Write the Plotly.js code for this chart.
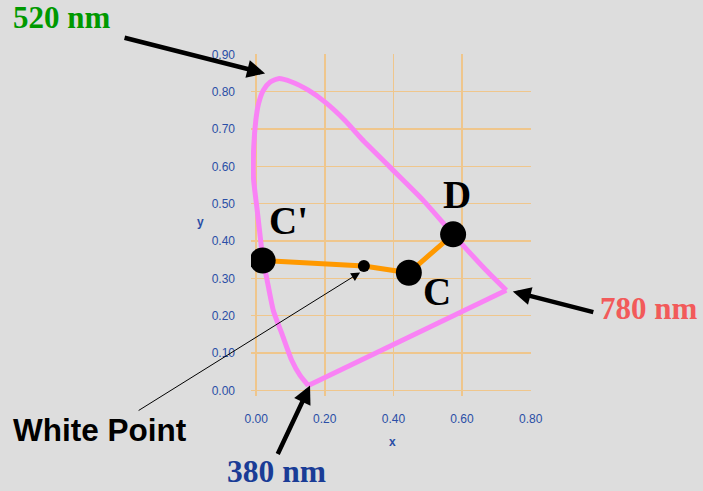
<!DOCTYPE html>
<html>
<head>
<meta charset="utf-8">
<script src="https://cdn.plot.ly/plotly-3.0.1.min.js"></script>
<style>
  html, body { margin: 0; padding: 0; background: #dddddd; }
  #plot { width: 703px; height: 491px; }
</style>
</head>
<body>
<div id="plot"></div>
<script>
// spectral locus, 380 nm -> 520 nm -> 780 nm, closed by the purple line
const locusX = [0.152, 0.128, 0.104, 0.075, 0.050, 0.031, 0.020, 0.012, 0.002, -0.008, -0.007, -0.001, 0.007,
  0.021, 0.041, 0.065, 0.104, 0.152, 0.201, 0.259, 0.307, 0.390, 0.487, 0.574, 0.671, 0.729, 0.152];
const locusY = [0.013, 0.040, 0.080, 0.152, 0.214, 0.300, 0.348, 0.411, 0.491, 0.571, 0.652, 0.723, 0.768,
  0.804, 0.826, 0.835, 0.826, 0.804, 0.772, 0.723, 0.674, 0.598, 0.509, 0.418, 0.321, 0.268, 0.013];

// C' -> white point -> C -> D
const pointNames = ["C'", 'White Point', 'C', 'D'];
const pointX = [0.019, 0.314, 0.445, 0.574];
const pointY = [0.348, 0.333, 0.315, 0.418];

// wavelength labels and where their arrows point
const waveLabels = ['520 nm', '780 nm', '380 nm'];
const waveX = [0.026, 0.748, 0.157];
const waveY = [0.849, 0.265, 0.013];

const xTicks = [0, 0.2, 0.4, 0.6, 0.8];
const yTicks = [0, 0.1, 0.2, 0.3, 0.4, 0.5, 0.6, 0.7, 0.8, 0.9];

const nCurve = locusX.length - 1;

const curve = {
  x: locusX.slice(0, nCurve),
  y: locusY.slice(0, nCurve),
  mode: 'lines',
  type: 'scatter',
  line: {color: '#f982f5', width: 5, shape: 'spline', smoothing: 0.6},
  hoverinfo: 'skip'
};

const purpleLine = {
  x: locusX.slice(nCurve - 1),
  y: locusY.slice(nCurve - 1),
  mode: 'lines',
  type: 'scatter',
  line: {color: '#f982f5', width: 5},
  hoverinfo: 'skip'
};

const path = {
  x: pointX,
  y: pointY,
  text: pointNames,
  mode: 'lines+markers',
  type: 'scatter',
  line: {color: '#ff9900', width: 5},
  marker: {color: '#000000', size: [26, 12, 26, 26], opacity: 1, line: {width: 0}}
};

const serif = 'Liberation Serif, Times New Roman, serif';
const sans = 'Liberation Sans, Arial, sans-serif';

// plot area in pixels, for the labels that sit outside it
const L = 251, T = 54, W = 280, H = 342;
function px(x) { return (x - L) / W; }
function py(y) { return (T + H - y) / H; }

function arrow(i, ax, ay, w, s) {
  return {x: waveX[i], y: waveY[i], xref: 'x', yref: 'y', text: '', showarrow: true,
    ax: ax, ay: ay, arrowhead: 2, arrowwidth: w, arrowsize: s, arrowcolor: '#000000', standoff: 0};
}

function label(txt, x, y, color, size, font) {
  return {x: px(x), y: py(y), xref: 'paper', yref: 'paper', xanchor: 'center', yanchor: 'middle',
    text: txt, showarrow: false, font: {family: font, size: size, color: color}};
}

const annotations = [
  arrow(0, -142, -36, 4.5, 0.8),
  arrow(1, 82, 21, 4.5, 0.8),
  arrow(2, -33, 70, 4.5, 0.8),
  {x: pointX[1] - 0.011, y: pointY[1] - 0.017, xref: 'x', yref: 'y', text: '', showarrow: true,
    ax: -223, ay: 139, arrowhead: 2, arrowwidth: 1, arrowsize: 1.8, arrowcolor: '#000000', standoff: 0},
  label('<b>' + waveLabels[0] + '</b>', 61, 18, '#009900', 31, serif),
  label('<b>' + waveLabels[1] + '</b>', 648, 308, '#f25a5a', 31, serif),
  label('<b>' + waveLabels[2] + '</b>', 276, 471, '#1a3c96', 31.5, serif),
  label('<b>' + pointNames[1] + '</b>', 100, 430, '#000000', 31.5, sans),
  label('<b>' + pointNames[0] + '</b>', 288, 220, '#000000', 39, serif),
  label('<b>' + pointNames[2] + '</b>', 437, 291, '#000000', 39, serif),
  label('<b>' + pointNames[3] + '</b>', 457, 195, '#000000', 39, serif),
  label('<b>y</b>', 200, 222, '#2a4ea6', 12, sans),
  label('<b>x</b>', 392, 442, '#2a4ea6', 12, sans)
];

const axisCommon = {
  showgrid: true,
  gridcolor: '#efc68c',
  gridwidth: 1.5,
  zeroline: false,
  showline: false,
  ticks: '',
  tickformat: '.2f',
  tickfont: {family: sans, size: 12, color: '#2a4ea6'}
};

const layout = {
  width: 703,
  height: 491,
  margin: {l: L, r: 703 - L - W, t: T, b: 491 - T - H},
  paper_bgcolor: '#dddddd',
  plot_bgcolor: '#dddddd',
  showlegend: false,
  xaxis: Object.assign({}, axisCommon, {range: [-0.015, 0.801], tickvals: xTicks, ticklabelstandoff: 14}),
  yaxis: Object.assign({}, axisCommon, {range: [-0.015, 0.901], tickvals: yTicks, ticklabelstandoff: 15}),
  annotations: annotations
};

Plotly.newPlot('plot', [curve, purpleLine, path], layout, {displayModeBar: false, staticPlot: true});
</script>
</body>
</html>
